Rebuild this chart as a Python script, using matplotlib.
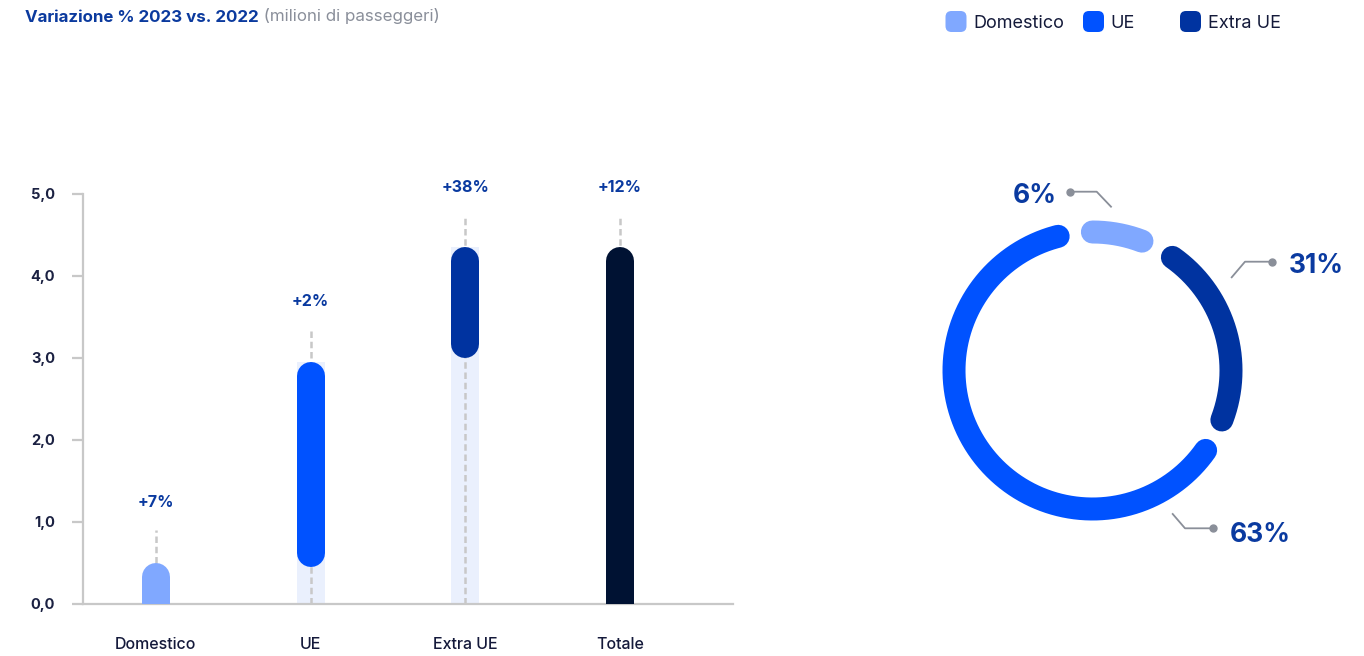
import numpy as np
import matplotlib.pyplot as plt
from matplotlib.patches import FancyBboxPatch

plt.rcParams['font.family'] = ['Inter', 'DejaVu Sans']

# barre: milioni di passeggeri (inizio e fine di ogni barra)
categorie = ['Domestico', 'UE', 'Extra UE', 'Totale']
base = [0.0, 0.45, 3.0, 0.0]
cima = [0.5, 2.95, 4.35, 4.35]
variazione = ['+7%', '+2%', '+38%', '+12%']
colori = ['#80a8ff', '#0052ff', '#0033a0', '#001233']
yticks = [0, 1, 2, 3, 4, 5]
ytick_labels = ['0,0', '1,0', '2,0', '3,0', '4,0', '5,0']

# ciambella (in senso orario dall'alto)
segmenti = ['Domestico', 'Extra UE', 'UE']
quota = [6, 31, 63]                 # valori delle etichette
quota_arco = [9.8, 25.0, 65.2]      # ampiezza degli archi come disegnati nell'originale
colori_ciambella = ['#80a8ff', '#0033a0', '#0052ff']

W, H = 1364, 656
fig = plt.figure(figsize=(W / 100, H / 100), dpi=100)


def box(x0, y0, x1, y1):
    # pixel (y dall'alto) -> frazioni della figura
    return [x0 / W, 1 - y1 / H, (x1 - x0) / W, (y1 - y0) / H]


grigio = '#c8c8c8'
blu_testo = '#0a3aa0'

# ---- grafico a barre
ax = fig.add_axes(box(83, 194, 733, 604))
ax.set_xlim(-0.47, 3.73)
ax.set_ylim(0, 5)

bar_px = 28
larg = bar_px / (650 / 4.2)
r = (bar_px / 2) / (410 / 5)   # raggio dell'estremita' arrotondata in unita' y

for i in range(len(categorie)):
    if base[i] > 0:
        ax.bar(i, cima[i], width=larg, color='#eaf0fd', zorder=1)
    ax.plot([i, i], [0, cima[i] + 0.4], color=grigio, lw=1.8,
            dashes=(2.6, 1.5), zorder=2)
    y0 = base[i] + r if base[i] > 0 else -1
    ax.plot([i, i], [y0, cima[i] - r], color=colori[i], lw=bar_px * 0.72,
            solid_capstyle='round', zorder=3)
    ax.text(i, cima[i] + 0.68, variazione[i], ha='center', va='baseline',
            fontsize=11.5, weight='bold', color=blu_testo)

for s in ['top', 'right']:
    ax.spines[s].set_visible(False)
for s in ['left', 'bottom']:
    ax.spines[s].set_color(grigio)
    ax.spines[s].set_linewidth(1.6)

ax.set_yticks(yticks, ytick_labels)
ax.tick_params(axis='y', length=8, width=1.6, color=grigio, pad=12,
               labelsize=10.5, labelcolor='#1b2142')
for lbl in ax.get_yticklabels():
    lbl.set_fontweight('bold')
ax.set_xticks(range(len(categorie)), categorie)
ax.tick_params(axis='x', length=0, pad=24, labelsize=11.5, labelcolor='#14193a')
for lbl in ax.get_xticklabels():
    lbl.set_fontweight('medium')

# ---- ciambella
cx, cy = 1092.5, 370.5
dax = fig.add_axes(box(cx - 200, cy - 200, cx + 200, cy + 200))
dax.set_xlim(-200, 200)
dax.set_ylim(-200, 200)
dax.axis('off')

R = 138.5
gap = 14.3
start = 97.2
for q, c in zip(quota_arco, colori_ciambella):
    span = q / 100 * 360
    th = np.radians(np.linspace(start - gap / 2, start - span + gap / 2, 200))
    dax.plot(R * np.cos(th), R * np.sin(th), color=c, lw=23 * 0.72,
             solid_capstyle='round')
    start -= span

# linee guida ed etichette (pixel rispetto al centro)
guide = [
    ([(18.5, 163.8), (4.2, 178.8), (-22.5, 178.8)], (-35.8, 167.2), 'right'),
    ([(139.2, 93.2), (152.5, 108.8), (179.2, 108.8)], (195.8, 97.2), 'left'),
    ([(80.2, -143.5), (92.5, -157.8), (120.2, -157.8)], (137.5, -171.2), 'left'),
]
for (pts, (tx, ty), ha), q in zip(guide, quota):
    xs, ys = zip(*pts)
    dax.plot(xs, ys, color='#8a8f99', lw=1.3, clip_on=False)
    dax.plot(xs[-1], ys[-1], 'o', color='#8a8f99', ms=5, clip_on=False)
    dax.text(tx, ty, f'{q}%', ha=ha, va='baseline', fontsize=19,
             weight='bold', color=blu_testo, clip_on=False)

# ---- titolo e legenda
ov = fig.add_axes([0, 0, 1, 1], facecolor='none')
ov.set_xlim(0, W)
ov.set_ylim(H, 0)
ov.axis('off')

t1 = ov.text(25, 24.5, 'Variazione % 2023 vs. 2022', fontsize=12.2, weight='bold',
             color='#0b3a9e', va='bottom')
ov.annotate(' (milioni di passeggeri)', xy=(1, 0), xycoords=t1, va='bottom',
            fontsize=12.2, color='#8a8f9a')

leg_x = [956, 1093.5, 1190.5]
for x, nome, c in zip(leg_x, ['Domestico', 'UE', 'Extra UE'], colori[:3]):
    ov.add_patch(FancyBboxPatch((x - 10.5, 11), 21, 21,
                                boxstyle='round,pad=0,rounding_size=6',
                                color=c, lw=0))
    ov.text(x + 17, 28.5, nome, fontsize=13, color='#141a3a', va='baseline')

fig.savefig('out.png', dpi=100)
